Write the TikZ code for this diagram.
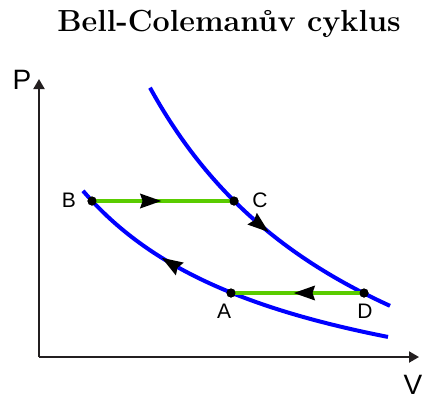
\documentclass[tikz,border=0pt]{standalone}
\usepackage{fontspec}
\newfontfamily\labfont{Liberation Sans}
\usetikzlibrary{arrows.meta,decorations.markings}
\definecolor{curveblue}{RGB}{0,0,255}
\definecolor{linegreen}{RGB}{90,204,0}
\definecolor{axisgray}{RGB}{35,31,32}
\tikzset{
  axis/.style={draw=axisgray,line width=2pt,-{Triangle[length=10pt,width=11pt]}},
  adiab/.style={draw=curveblue,line width=4pt},
  isob/.style={draw=linegreen,line width=4pt},
  pt/.style={circle,fill=black,inner sep=0pt,minimum size=9pt},
  lab/.style={font=\labfont\fontsize{21}{21}\selectfont,inner sep=0pt},
  axlab/.style={font=\labfont\fontsize{28}{28}\selectfont,inner sep=0pt},
  tipmark/.style={postaction={decorate,decoration={markings,mark=at position #1 with {\arrow[black]{Stealth[length=21pt,width=14pt,inset=2pt]}}}}},
  tipmarkrev/.style={postaction={decorate,decoration={markings,mark=at position #1 with {\arrowreversed[black]{Stealth[length=21pt,width=14pt,inset=2pt]}}}}},
}
\begin{document}
\begin{tikzpicture}[x=1pt,y=-1pt]
\useasboundingbox (0,0) rectangle (425,399);
\node[font=\fontsize{30.5}{34}\bfseries\selectfont,inner sep=0pt,anchor=base] (title) at (229,31) {Bell-Colemanův cyklus};
\coordinate (O) at (39,357);
\coordinate (Ptop) at (39,79);
\coordinate (Vend) at (419,357);
\draw[axis] (O) -- (Ptop);
\draw[axis] (O) -- (Vend);
\node[axlab] (P) at (22,80) {P};
\node[axlab] (V) at (413,385) {V};
% curves
\draw[adiab,tipmark=0.57] plot[domain=150:390,samples=100] (\x,{524-1046.75/(0.01*\x+0.9)});
\draw[adiab,tipmarkrev=0.30] plot[domain=83:388,samples=100] (\x,{439-528.5/(0.01*\x+1.3)});
% points
\node[pt] (B) at (92,201) {};
\node[pt] (C) at (234,201) {};
\node[pt] (A) at (231,293) {};
\node[pt] (D) at (364,293) {};
\draw[isob,tipmark=0.49] (B.center) -- (C.center);
\draw[isob,tipmark=0.53] (D.center) -- (A.center);
\node[pt] at (B) {};
\node[pt] at (C) {};
\node[pt] at (A) {};
\node[pt] at (D) {};
\node[lab] (lB) at (69,200) {B};
\node[lab] (lC) at (260,200) {C};
\node[lab] (lA) at (224,311) {A};
\node[lab] (lD) at (365,311) {D};
\end{tikzpicture}
\end{document}
